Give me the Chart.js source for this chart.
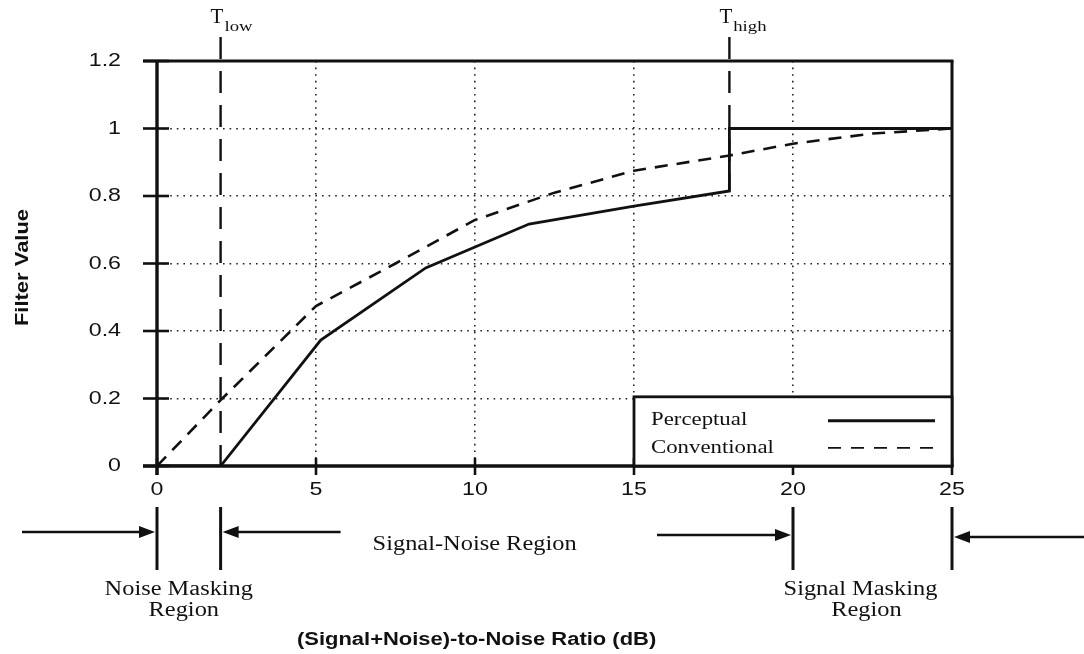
<!DOCTYPE html>
<html>
<head>
<meta charset="utf-8">
<title>Filter Value vs (Signal+Noise)-to-Noise Ratio</title>
<script src="https://cdn.jsdelivr.net/npm/chart.js@4.4.0/dist/chart.umd.min.js"></script>
<style>
  html, body { margin: 0; padding: 0; background: #fff; }
</style>
</head>
<body>
<canvas id="filter-chart" width="1084" height="654"></canvas>
<script>
// Filter curves (x = SNR in dB, y = filter value)
const perceptualX = [0, 2, 5.15, 8.45, 11.7, 15, 18, 18, 25];
const perceptualY = [0, 0, 0.373, 0.587, 0.717, 0.77, 0.815, 1.0, 1.0];
const conventionalX = [0, 2, 5, 7.5, 10, 12.5, 15, 18, 20, 22.5, 25];
const conventionalY = [0, 0.195, 0.474, 0.6, 0.729, 0.81, 0.875, 0.92, 0.955, 0.985, 1.0];

// Axis ticks
const xTickValues = [0, 5, 10, 15, 20, 25];
const xTickLabels = ['0', '5', '10', '15', '20', '25'];
const yTickValues = [0, 0.2, 0.4, 0.6, 0.8, 1.0, 1.2];
const yTickLabels = ['0', '0.2', '0.4', '0.6', '0.8', '1', '1.2'];

// Thresholds T_low / T_high and region boundaries
const thresholdValues = [2, 18];
const thresholdSubs = ['low', 'high'];
const regionBounds = [0, 2, 20, 25];

const SANS = '"Liberation Sans", Arial, sans-serif';
const SERIF = '"Liberation Serif", "Times New Roman", serif';
const INK = '#111';

// Text drawn with a horizontal stretch (the figure's lettering is wide)
function drawText(ctx, str, x, y, font, align, sx) {
  ctx.save();
  ctx.font = font;
  ctx.textBaseline = 'middle';
  ctx.textAlign = 'left';
  const w = ctx.measureText(str).width * sx;
  const left = align === 'center' ? x - w / 2 : align === 'right' ? x - w : x;
  ctx.translate(left, y);
  ctx.scale(sx, 1);
  ctx.fillText(str, 0, 0);
  ctx.restore();
  return w;
}

function line(ctx, x1, y1, x2, y2) {
  ctx.beginPath();
  ctx.moveTo(x1, y1);
  ctx.lineTo(x2, y2);
  ctx.stroke();
}

function arrow(ctx, from, to, y) {
  const dir = Math.sign(to - from);
  ctx.lineWidth = 2.6;
  line(ctx, from, y, to - dir * 12, y);
  ctx.beginPath();
  ctx.moveTo(to, y);
  ctx.lineTo(to - dir * 16, y - 6);
  ctx.lineTo(to - dir * 16, y + 6);
  ctx.closePath();
  ctx.fill();
}

const overlayPlugin = {
  id: 'filterOverlay',
  afterDatasetsDraw(chart) {
    const { ctx, chartArea: a, scales: { x, y } } = chart;
    ctx.save();
    ctx.strokeStyle = INK;
    ctx.fillStyle = INK;
    ctx.lineCap = 'butt';

    // threshold markers, running above the plot
    const thresholdEnds = [0, perceptualY[6]];
    thresholdValues.forEach((v, i) => {
      const px = x.getPixelForValue(v);
      ctx.lineWidth = 2.4;
      ctx.setLineDash([22, 12]);
      ctx.lineDashOffset = 0;
      line(ctx, px, a.top - 24, px, y.getPixelForValue(thresholdEnds[i]));
      ctx.setLineDash([]);
      const tw = drawText(ctx, 'T', px - 10, 17, '21px ' + SERIF, 'left', 1.0);
      drawText(ctx, thresholdSubs[i], px - 10 + tw + 1, 27, '15px ' + SERIF, 'left', 1.25);
    });

    // frame
    ctx.setLineDash([]);
    ctx.lineWidth = 3;
    line(ctx, a.left - 14, a.top, a.right + 1.5, a.top);
    line(ctx, a.right, a.top, a.right, a.bottom);
    ctx.lineWidth = 3.4;
    line(ctx, a.left, a.top, a.left, a.bottom + 9);
    line(ctx, a.left - 14, a.bottom, a.right + 1.5, a.bottom);

    // tick marks and tick labels
    ctx.lineWidth = 2.6;
    yTickValues.forEach((v, i) => {
      const py = y.getPixelForValue(v);
      line(ctx, a.left - 14, py, a.left + 12, py);
      drawText(ctx, yTickLabels[i], a.left - 36, py, '19px ' + SANS, 'right', 1.22);
    });
    xTickValues.forEach((v, i) => {
      const px = x.getPixelForValue(v);
      line(ctx, px, a.bottom - 8, px, a.bottom + 9);
      drawText(ctx, xTickLabels[i], px, a.bottom + 24, '19px ' + SANS, 'center', 1.22);
    });

    // legend box in the lower right corner
    const bx1 = x.getPixelForValue(15), bx2 = a.right;
    const by1 = y.getPixelForValue(0.205), by2 = a.bottom;
    ctx.fillStyle = '#fff';
    ctx.fillRect(bx1, by1, bx2 - bx1, by2 - by1);
    ctx.fillStyle = INK;
    ctx.lineWidth = 2.8;
    ctx.strokeRect(bx1, by1, bx2 - bx1, by2 - by1);
    const names = chart.data.datasets.map(d => d.label);
    drawText(ctx, names[0], bx1 + 17, by1 + 23, '19px ' + SERIF, 'left', 1.2);
    drawText(ctx, names[1], bx1 + 17, by1 + 51, '19px ' + SERIF, 'left', 1.2);
    ctx.lineWidth = 3;
    line(ctx, bx2 - 124, by1 + 24, bx2 - 17, by1 + 24);
    ctx.lineWidth = 1.8;
    ctx.setLineDash([13, 10]);
    line(ctx, bx2 - 124, by1 + 51, bx2 - 17, by1 + 51);
    ctx.setLineDash([]);

    // region markers below the axis
    const rb = regionBounds.map(v => x.getPixelForValue(v));
    ctx.lineWidth = 3;
    rb.forEach(px => line(ctx, px, a.bottom + 41, px, a.bottom + 104));
    arrow(ctx, 22, rb[0] - 2, a.bottom + 66);
    arrow(ctx, rb[1] + 120, rb[1] + 2, a.bottom + 66);
    arrow(ctx, rb[2] - 136, rb[2] - 2, a.bottom + 69);
    arrow(ctx, chart.width, rb[3] + 2, a.bottom + 71);

    drawText(ctx, 'Signal-Noise Region', rb[1] + 152, a.bottom + 79, '20px ' + SERIF, 'left', 1.22);
    const nmx = (rb[0] + rb[1]) / 2 - 10;
    drawText(ctx, 'Noise Masking', nmx, a.bottom + 124, '20px ' + SERIF, 'center', 1.22);
    drawText(ctx, 'Region', nmx + 5, a.bottom + 145, '20px ' + SERIF, 'center', 1.22);
    const smx = (rb[2] + rb[3]) / 2 - 12;
    drawText(ctx, 'Signal Masking', smx, a.bottom + 124, '20px ' + SERIF, 'center', 1.22);
    drawText(ctx, 'Region', smx + 6, a.bottom + 145, '20px ' + SERIF, 'center', 1.22);

    // axis titles
    drawText(ctx, '(Signal+Noise)-to-Noise Ratio (dB)', x.getPixelForValue(10.05), a.bottom + 174,
      'bold 18px ' + SANS, 'center', 1.22);
    ctx.save();
    ctx.translate(23, (a.top + a.bottom) / 2 + 4);
    ctx.rotate(-Math.PI / 2);
    drawText(ctx, 'Filter Value', 0, 0, 'bold 18px ' + SANS, 'center', 1.22);
    ctx.restore();

    ctx.restore();
  }
};

// Dotted grid: in Chart.js v4 the dash of grid lines comes from border.dash
const dottedGrid = { color: '#222', lineWidth: 1.6, drawTicks: false };
const hiddenBorder = { display: false, dash: [1.6, 5] };

const ctx = document.getElementById('filter-chart').getContext('2d');
const filterChart = new Chart(ctx, {
  type: 'line',
  data: {
    datasets: [{
      label: 'Perceptual',
      data: perceptualX.map((v, i) => ({ x: v, y: perceptualY[i] })),
      borderColor: INK,
      borderWidth: 2.8,
      pointRadius: 0,
      tension: 0,
      fill: false
    }, {
      label: 'Conventional',
      data: conventionalX.map((v, i) => ({ x: v, y: conventionalY[i] })),
      borderColor: INK,
      borderWidth: 2.6,
      borderDash: [13, 9],
      pointRadius: 0,
      tension: 0,
      fill: false
    }]
  },
  options: {
    responsive: false,
    animation: false,
    layout: { padding: { top: 61, right: 132, left: 0, bottom: 0 } },
    plugins: {
      legend: { display: false },
      tooltip: { enabled: false }
    },
    scales: {
      x: {
        type: 'linear',
        min: 0,
        max: 25,
        afterBuildTicks: s => { s.ticks = xTickValues.map(v => ({ value: v })); },
        afterFit: s => { s.height = 188; },
        border: hiddenBorder,
        grid: dottedGrid,
        ticks: { display: false }
      },
      y: {
        min: 0,
        max: 1.2,
        afterBuildTicks: s => { s.ticks = yTickValues.map(v => ({ value: v })); },
        afterFit: s => { s.width = 157; },
        border: hiddenBorder,
        grid: dottedGrid,
        ticks: { display: false }
      }
    }
  },
  plugins: [overlayPlugin]
});
</script>
</body>
</html>
